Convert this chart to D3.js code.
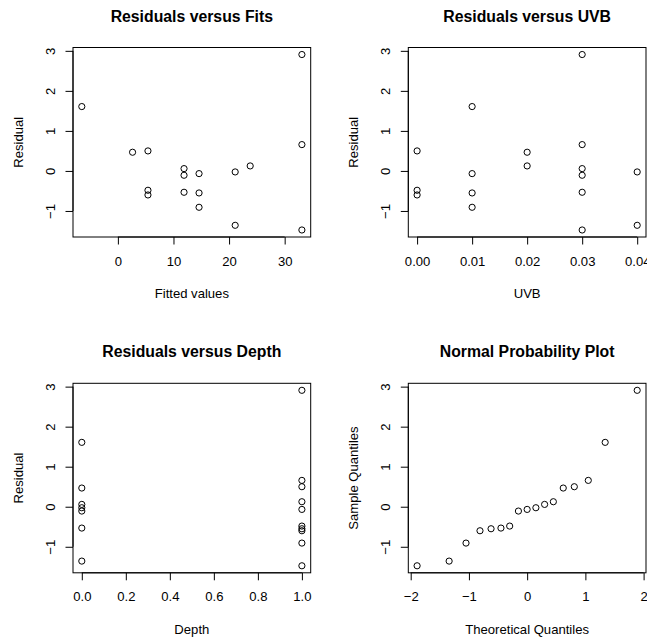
<!DOCTYPE html>
<html>
<head>
<meta charset="utf-8">
<script src="https://cdn.jsdelivr.net/npm/d3@7"></script>
<style>
  body { margin: 0; background: #fff; }
  svg { display: block; }
</style>
</head>
<body>
<div id="my_dataviz"></div>
<script>
var fitted   = [-6.49, 2.64, 5.41, 5.41, 5.41, 11.9, 11.9, 11.9, 14.6, 14.6, 14.6, 21.1, 21.1, 23.8, 33.1, 33.1, 33.1];
var residual = [1.608, 0.467, 0.5, -0.483, -0.6, 0.058, -0.108, -0.533, -0.067, -0.55, -0.908, -0.025, -1.358, 0.125, 2.908, 0.658, -1.475];
var uvb      = [0.01, 0.02, 0.00, 0.00, 0.00, 0.03, 0.03, 0.03, 0.01, 0.01, 0.01, 0.04, 0.04, 0.02, 0.03, 0.03, 0.03];
var depth    = [0, 0, 1, 1, 1, 0, 0, 0, 1, 1, 1, 0, 0, 1, 1, 1, 1];

// normal probability plot
var theoretical = [-1.89, -1.34, -1.05, -0.81, -0.62, -0.45, -0.30, -0.15, 0.00, 0.15, 0.30, 0.45, 0.62, 0.81, 1.05, 1.34, 1.89];
var sampleQ     = [-1.475, -1.358, -0.908, -0.6, -0.55, -0.533, -0.483, -0.108, -0.067, -0.025, 0.058, 0.125, 0.467, 0.5, 0.658, 1.608, 2.908];

// tick values
var residTicks = [-1, 0, 1, 2, 3];
var fitTicks   = [0, 10, 20, 30];
var uvbTicks   = [0, 0.01, 0.02, 0.03, 0.04];
var depthTicks = [0, 0.2, 0.4, 0.6, 0.8, 1.0];
var qqTicks    = [-2, -1, 0, 1, 2];

var W = 647, H = 639;
var boxW = 237.7, boxH = 189.5;
var font = "'Liberation Sans', Arial, Helvetica, sans-serif";

var svg = d3.select("#my_dataviz")
  .append("svg")
    .attr("width", W)
    .attr("height", H);

// R style range: data extent plus 4% each side
function padded(vals) {
  var e = d3.extent(vals);
  var p = (e[1] - e[0]) * 0.04;
  return [e[0] - p, e[1] + p];
}

function drawPanel(opt) {
  var g = svg.append("g")
    .attr("transform", "translate(" + opt.left + "," + opt.top + ")");

  var x = d3.scaleLinear().domain(padded(opt.xs)).range([0, boxW]);
  var y = d3.scaleLinear().domain(padded(opt.ys)).range([boxH, 0]);

  // x axis
  var xa = g.append("g")
    .attr("transform", "translate(0," + boxH + ")")
    .call(d3.axisBottom(x).tickValues(opt.xTicks).tickSize(7.5).tickSizeOuter(0).tickFormat(opt.xFmt));
  xa.select(".domain").remove();
  xa.append("line")
    .attr("x1", x(opt.xTicks[0])).attr("x2", x(opt.xTicks[opt.xTicks.length - 1]))
    .attr("stroke", "#000");
  xa.selectAll("text")
    .attr("y", 28.5).attr("dy", null)
    .attr("fill", "#000")
    .style("font-family", font).style("font-size", "13.1px");

  // y axis, labels parallel to the axis
  var ya = g.append("g")
    .call(d3.axisLeft(y).tickValues(residTicks).tickSize(7.5).tickSizeOuter(0).tickFormat(d3.format("d")));
  ya.select(".domain").remove();
  ya.append("line")
    .attr("y1", y(residTicks[0])).attr("y2", y(residTicks[residTicks.length - 1]))
    .attr("stroke", "#000");
  ya.selectAll("text")
    .attr("transform", "rotate(-90)")
    .attr("x", 0).attr("y", -18.5).attr("dy", null)
    .attr("text-anchor", "middle")
    .attr("fill", "#000")
    .style("font-family", font).style("font-size", "13.1px");

  // box
  g.append("rect")
    .attr("width", boxW).attr("height", boxH)
    .attr("fill", "none").attr("stroke", "#000");

  // points
  g.selectAll("circle")
    .data(opt.xs.map(function(d, i) { return [d, opt.ys[i]]; }))
    .enter()
    .append("circle")
      .attr("cx", function(d) { return x(d[0]); })
      .attr("cy", function(d) { return y(d[1]); })
      .attr("r", 3.1)
      .attr("fill", "none")
      .attr("stroke", "#000")
      .attr("stroke-width", 1);

  // title and axis titles
  g.append("text")
    .attr("x", boxW / 2).attr("y", -26)
    .attr("text-anchor", "middle")
    .style("font-family", font).style("font-size", "15.8px").style("font-weight", "bold")
    .text(opt.title);
  g.append("text")
    .attr("x", boxW / 2).attr("y", boxH + 61)
    .attr("text-anchor", "middle")
    .style("font-family", font).style("font-size", "13.1px")
    .text(opt.xlab);
  g.append("text")
    .attr("transform", "translate(-50," + (boxH / 2) + ") rotate(-90)")
    .attr("text-anchor", "middle")
    .style("font-family", font).style("font-size", "13.1px")
    .text(opt.ylab);
}

drawPanel({left: 73, top: 47.5, xs: fitted, ys: residual, xTicks: fitTicks, xFmt: d3.format("d"),
  title: "Residuals versus Fits", xlab: "Fitted values", ylab: "Residual"});
drawPanel({left: 408.3, top: 47.5, xs: uvb, ys: residual, xTicks: uvbTicks, xFmt: d3.format(".2f"),
  title: "Residuals versus UVB", xlab: "UVB", ylab: "Residual"});
drawPanel({left: 73, top: 383.3, xs: depth, ys: residual, xTicks: depthTicks, xFmt: d3.format(".1f"),
  title: "Residuals versus Depth", xlab: "Depth", ylab: "Residual"});
drawPanel({left: 408.3, top: 383.3, xs: theoretical, ys: sampleQ, xTicks: qqTicks, xFmt: d3.format("d"),
  title: "Normal Probability Plot", xlab: "Theoretical Quantiles", ylab: "Sample Quantiles"});
</script>
</body>
</html>
